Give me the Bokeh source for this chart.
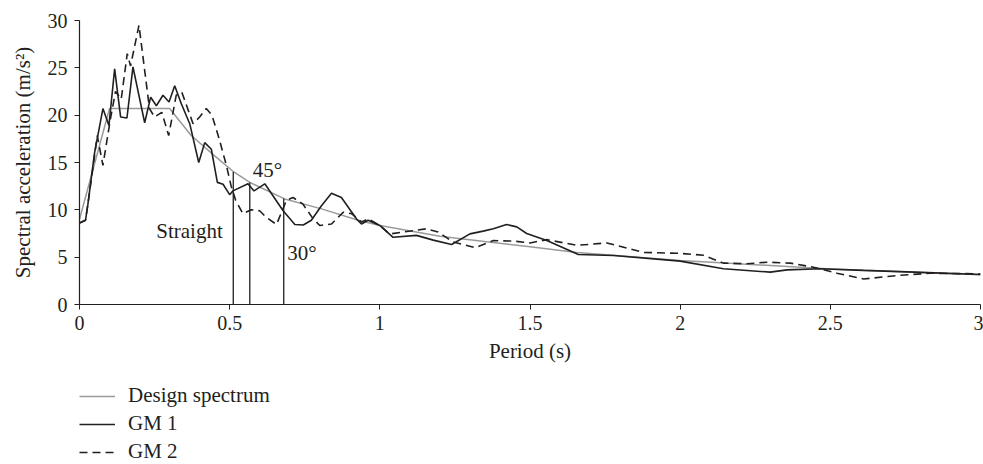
from bokeh.plotting import figure
from bokeh.layouts import column
from bokeh.models import Legend, LegendItem, FixedTicker, Range1d, ColumnDataSource, LabelSet
from bokeh.embed import file_html
from bokeh.resources import INLINE

# ---------------- data ----------------
design_T = [0.0, 0.1, 0.3, 0.372, 0.45, 0.514, 0.567, 0.683, 0.806, 0.928, 1.0,
            1.2, 1.5, 1.656, 2.0, 2.5, 3.0]
design_A = [9.0, 20.7, 20.7, 17.85, 15.7, 14.0, 12.9, 11.15, 10.1, 8.9, 8.35,
            7.2, 6.1, 5.5, 4.65, 3.75, 3.15]

gm1_T = [0.0, 0.02, 0.028, 0.05, 0.078, 0.098, 0.117, 0.137, 0.158, 0.178, 0.217,
         0.237, 0.256, 0.278, 0.298, 0.317, 0.339, 0.367, 0.397, 0.417, 0.439,
         0.459, 0.478, 0.5, 0.511, 0.561, 0.581, 0.617, 0.678, 0.717, 0.745,
         0.772, 0.805, 0.839, 0.872, 0.922, 0.939, 0.961, 1.0, 1.044, 1.122,
         1.178, 1.239, 1.3, 1.344, 1.378, 1.422, 1.456, 1.489, 1.556, 1.661,
         1.778, 2.0, 2.144, 2.3, 2.356, 2.467, 2.61, 2.78, 3.0]
gm1_A = [8.6, 8.9, 10.6, 16.0, 20.7, 18.9, 24.9, 19.8, 19.7, 25.1, 19.2,
         21.9, 21.0, 22.1, 21.4, 23.1, 21.2, 19.1, 15.0, 17.1, 16.4,
         12.9, 12.7, 11.6, 12.0, 12.75, 12.0, 12.75, 9.9, 8.45, 8.4,
         8.9, 10.4, 11.75, 11.3, 9.05, 8.5, 8.9, 8.35, 7.1, 7.3,
         6.8, 6.34, 7.46, 7.75, 8.0, 8.45, 8.2, 7.5, 6.76, 5.28,
         5.17, 4.58, 3.77, 3.42, 3.66, 3.77, 3.6, 3.42, 3.17]

gm2_T = [0.0, 0.02, 0.028, 0.045, 0.059, 0.078, 0.103, 0.12, 0.139, 0.159, 0.17,
         0.198, 0.233, 0.25, 0.274, 0.297, 0.322, 0.341, 0.378, 0.40, 0.422,
         0.441, 0.465, 0.489, 0.505, 0.52, 0.544, 0.572, 0.6, 0.622, 0.656,
         0.689, 0.711, 0.744, 0.778, 0.8, 0.839, 0.878, 0.906, 0.939, 0.961,
         1.0, 1.033, 1.111, 1.156, 1.194, 1.244, 1.317, 1.378, 1.444, 1.5,
         1.556, 1.656, 1.756, 1.878, 2.0, 2.078, 2.144, 2.222, 2.289, 2.367,
         2.444, 2.522, 2.611, 2.722, 2.833, 3.0]
gm2_A = [8.6, 8.9, 10.6, 14.5, 17.85, 14.7, 19.6, 22.5, 21.7, 26.5, 25.2,
         29.5, 20.7, 19.8, 20.3, 17.85, 22.1, 22.4, 19.1, 19.8, 20.7,
         20.0, 17.5, 14.7, 12.5, 11.0, 9.6, 10.0, 9.9, 9.2, 8.45,
         11.0, 11.3, 10.6, 9.05, 8.35, 8.5, 9.75, 9.6, 8.7, 9.05,
         8.35, 7.45, 7.8, 8.0, 7.65, 6.6, 6.0, 6.75, 6.7, 6.5,
         6.85, 6.25, 6.5, 5.5, 5.4, 5.2, 4.37, 4.3, 4.47, 4.37,
         3.94, 3.3, 2.7, 3.06, 3.3, 3.24]

# cut-off periods marked with vertical lines
cut_T = [0.512, 0.567, 0.68]
cut_A = [14.0, 12.9, 11.2]

# annotation labels
note_text = ["Straight", "45°", "30°"]
note_T = [0.477, 0.577, 0.692]
note_A = [7.0, 13.5, 4.7]
note_align = ["right", "left", "left"]

series_names = ["Design spectrum", "GM 1", "GM 2"]

x_ticks = [0, 0.5, 1, 1.5, 2, 2.5, 3]
y_ticks = [0, 5, 10, 15, 20, 25, 30]

FONT = "Liberation Serif"
INK = "#231f20"
GREY = "#9a9a9a"

# ---------------- main chart ----------------
p = figure(width=983, height=370, output_backend="svg", toolbar_location=None,
           x_range=Range1d(0, 3), y_range=Range1d(0, 30),
           min_border_left=79, min_border_right=3, min_border_top=20,
           min_border_bottom=66)
p.outline_line_color = None
p.xgrid.visible = False
p.ygrid.visible = False

for ax in (p.xaxis[0], p.yaxis[0]):
    ax.axis_line_color = INK
    ax.axis_line_width = 1.2
    ax.major_tick_line_color = INK
    ax.major_tick_out = 5
    ax.major_tick_in = 0
    ax.minor_tick_line_color = None
    ax.major_label_text_font = FONT
    ax.major_label_text_font_size = "20px"
    ax.major_label_text_color = INK
    ax.axis_label_text_font = FONT
    ax.axis_label_text_font_size = "21px"
    ax.axis_label_text_font_style = "normal"
    ax.axis_label_text_color = INK

p.xaxis[0].ticker = FixedTicker(ticks=x_ticks)
p.yaxis[0].ticker = FixedTicker(ticks=y_ticks)
p.xaxis[0].axis_label = "Period (s)"
p.yaxis[0].axis_label = "Spectral acceleration (m/s²)"
p.xaxis[0].major_label_standoff = 6
p.xaxis[0].axis_label_standoff = 6
p.yaxis[0].major_label_standoff = 7
p.yaxis[0].axis_label_standoff = 10

p.line(design_T, design_A, line_color=GREY, line_width=1.5)
p.line(gm1_T, gm1_A, line_color=INK, line_width=1.6)
p.line(gm2_T, gm2_A, line_color=INK, line_width=1.6, line_dash="8 5")

p.segment(x0=cut_T, y0=[0, 0, 0], x1=cut_T, y1=cut_A, line_color=INK, line_width=1.3)

src = ColumnDataSource(dict(x=note_T, y=note_A, t=note_text, a=note_align))
p.add_layout(LabelSet(x="x", y="y", text="t", source=src, text_align="a",
                      text_baseline="alphabetic", text_font=FONT,
                      text_font_size="21px", text_color=INK))

# ---------------- legend strip below the chart ----------------
leg = figure(width=983, height=94, output_backend="svg", toolbar_location=None,
             x_range=Range1d(10, 11), y_range=Range1d(100, 101),
             x_axis_type=None, y_axis_type=None,
             min_border_left=0, min_border_right=0, min_border_top=0,
             min_border_bottom=0)
leg.outline_line_color = None
leg.xgrid.visible = False
leg.ygrid.visible = False
# same series, outside this strip's view: only their legend samples show
l_design = leg.line(design_T, design_A, line_color=GREY, line_width=1.5)
l_gm1 = leg.line(gm1_T, gm1_A, line_color=INK, line_width=1.6)
l_gm2 = leg.line(gm2_T, gm2_A, line_color=INK, line_width=1.6, line_dash="8 5")

legend = Legend(items=[LegendItem(label=series_names[0], renderers=[l_design]),
                       LegendItem(label=series_names[1], renderers=[l_gm1]),
                       LegendItem(label=series_names[2], renderers=[l_gm2])],
                location=(0, 0), orientation="vertical",
                border_line_color=None, background_fill_alpha=0,
                margin=0, padding=0, spacing=3,
                glyph_width=36, glyph_height=20, label_height=20,
                label_standoff=13, label_text_font=FONT,
                label_text_font_size="21px", label_text_color=INK)
leg.add_layout(legend, "center")

open("out.html", "w").write(file_html(column(p, leg, spacing=0), INLINE))
